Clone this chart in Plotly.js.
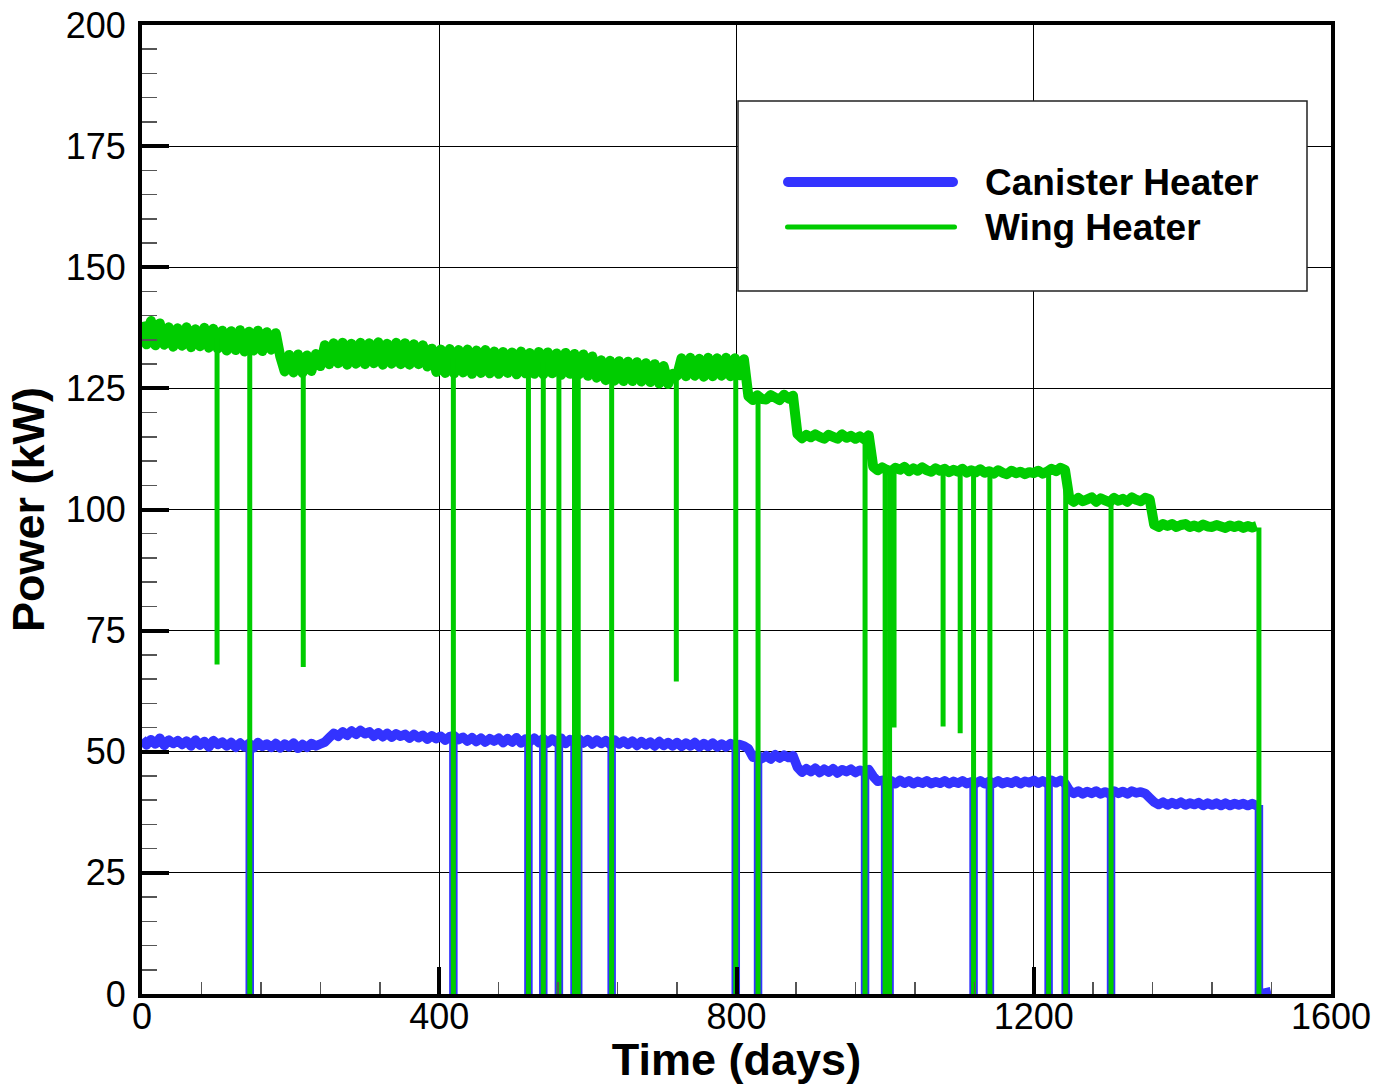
<!DOCTYPE html>
<html>
<head>
<meta charset="utf-8">
<script src="https://cdn.plot.ly/plotly-3.0.1.min.js"></script>
<style>
html,body{margin:0;padding:0;background:#fff;}
#chart{width:1377px;height:1085px;}
#chart path.js-line{stroke-linejoin:round;}
#chart .shapelayer path{stroke-linecap:round;}
</style>
</head>
<body>
<div id="chart"></div>
<script>
// Regular sampling days (every ~6 days)
const days = [
0,6,12,18,24,30,36,42,48,54,
60,66,72,78,84,90,96,102,108,114,
120,126,132,138,144,150,156,162,168,174,
180,186,192,198,204,210,216,222,228,234,
240,246,252,258,264,270,276,282,288,294,
300,306,312,318,324,330,336,342,348,354,
360,366,372,378,384,390,396,402,408,414,
420,426,432,438,444,450,456,462,468,474,
480,486,492,498,504,510,516,522,528,534,
540,546,552,558,564,570,576,582,588,594,
600,606,612,618,624,630,636,642,648,654,
660,666,672,678,684,690,696,702,708,714,
720,726,732,738,744,750,756,762,768,774,
780,786,792,798,804,810,816,822,828,834,
840,846,852,858,864,870,876,882,888,894,
900,906,912,918,924,930,936,942,948,954,
960,966,972,978,984,990,996,1002,1008,1014,
1020,1026,1032,1038,1044,1050,1056,1062,1068,1074,
1080,1086,1092,1098,1104,1110,1116,1122,1128,1134,
1140,1146,1152,1158,1164,1170,1176,1182,1188,1194,
1200,1206,1212,1218,1224,1230,1236,1242,1248,1254,
1260,1266,1272,1278,1284,1290,1296,1302,1308,1314,
1320,1326,1332,1338,1344,1350,1356,1362,1368,1374,
1380,1386,1392,1398,1404,1410,1416,1422,1428,1434,
1440,1446,1452,1458,1464,1470,1476,1482,1488,1494,
1500];

// Wing heater power (kW)
const wingKW = [
138.7,134.1,138.9,133.9,138.4,134.0,137.6,133.6,137.4,133.8,
137.6,133.5,137.2,133.7,137.5,133.4,137.3,133.2,136.9,132.8,
136.8,132.9,137.0,132.6,136.7,132.8,136.9,132.7,136.6,133.0,
136.4,131.6,128.5,131.9,128.3,132.0,128.2,131.8,128.6,132.1,
129.6,133.9,130.0,134.3,130.2,134.4,129.9,134.2,130.1,134.4,
130.0,134.3,130.2,134.5,129.9,134.2,130.1,134.4,130.0,134.3,
129.9,134.1,130.0,133.9,129.5,133.2,128.4,133.0,128.2,133.1,
128.1,132.9,128.3,133.0,128.0,132.8,128.2,132.9,128.1,132.6,
128.0,132.5,128.2,132.4,127.9,132.6,128.1,132.3,128.0,132.5,
127.9,132.4,128.1,132.2,127.8,132.3,128.0,132.1,127.9,132.0,
127.6,131.6,127.2,130.8,126.7,130.7,126.6,130.6,126.5,130.5,
126.5,130.4,126.4,130.2,126.3,130.0,126.0,129.6,125.9,128.0,
127.6,131.2,127.5,131.3,127.6,131.1,127.4,131.3,127.5,131.2,
127.6,131.3,127.5,131.2,127.7,131.0,123.4,122.6,123.6,122.8,
122.7,123.6,123.1,122.6,123.7,122.9,123.5,115.6,114.7,115.4,
114.9,115.5,115.0,114.6,115.4,115.0,114.6,115.5,114.8,115.2,
114.6,115.1,114.5,115.3,108.8,108.1,108.7,108.2,107.9,108.6,
108.2,108.8,107.9,108.5,108.0,108.7,108.1,107.8,108.5,108.0,
108.4,107.7,108.2,107.8,108.4,107.6,108.1,107.7,108.3,107.6,
107.9,107.4,108.1,107.6,107.3,108.0,107.5,107.8,107.3,107.7,
107.5,108.0,107.4,107.8,108.4,107.9,108.6,108.2,102.2,101.6,
102.4,101.7,102.1,102.5,101.6,102.3,101.9,101.5,102.4,101.8,
102.2,101.6,102.5,102.0,101.7,102.4,102.1,96.9,96.4,97.0,
96.6,97.0,96.4,96.8,97.0,96.4,96.7,96.3,96.9,96.5,
96.4,96.8,96.5,96.2,96.7,96.4,96.7,96.2,96.6,96.3,
96.6];

// Canister heater power (kW)
const canisterKW = [
52.6,51.4,52.5,51.6,52.8,51.3,52.4,51.7,52.3,51.5,
52.2,51.2,52.4,51.4,52.1,51.0,52.3,51.5,52.0,51.2,
51.9,50.9,51.8,51.0,51.7,50.8,51.9,51.1,51.6,50.9,
51.7,50.8,51.6,51.0,51.8,50.7,51.5,50.9,51.7,51.2,
51.6,52.0,52.9,53.8,53.2,54.1,53.4,54.3,53.6,54.4,
53.7,54.1,53.2,53.9,53.1,53.8,53.0,53.7,53.2,53.6,
52.8,53.6,52.9,53.4,52.6,53.3,52.7,53.2,52.4,53.1,
53.3,52.5,53.0,52.2,52.9,52.1,52.8,52.0,52.7,52.2,
52.8,51.9,52.7,52.0,52.9,51.8,52.6,52.1,52.8,51.9,
52.7,51.8,52.6,51.9,52.8,51.7,52.5,51.9,52.6,51.8,
52.5,51.6,52.4,51.7,52.3,51.5,52.4,51.6,52.2,51.5,
52.2,51.3,52.1,51.4,52.0,51.2,52.1,51.3,51.9,51.2,
51.9,51.1,51.8,51.2,51.9,51.0,51.7,51.1,51.8,51.0,
51.6,51.0,51.7,51.1,51.5,51.2,50.6,48.9,49.3,48.6,
49.2,48.5,49.4,48.7,49.3,48.8,49.2,46.8,45.8,46.5,
45.9,46.6,45.7,46.4,45.8,46.5,45.6,46.3,45.9,46.4,
45.7,46.2,45.8,46.3,44.9,43.9,44.1,43.5,44.0,43.4,
44.1,43.5,44.0,43.4,43.9,43.5,44.0,43.4,43.8,43.5,
44.0,43.4,43.9,43.5,44.0,43.4,43.8,43.5,44.0,43.4,
43.9,43.5,44.0,43.4,43.8,43.5,44.0,43.4,43.9,43.6,
44.1,43.5,44.0,43.5,44.1,43.6,44.1,43.5,42.0,41.4,
41.9,41.3,41.8,41.4,41.9,41.3,41.7,41.3,41.9,41.4,
41.8,41.3,41.9,41.5,41.7,41.4,40.5,39.6,39.1,39.6,
39.0,39.5,39.1,39.6,39.0,39.4,39.1,39.5,38.9,39.4,
39.0,39.4,38.9,39.4,38.9,39.3,39.0,39.3,38.9,39.3,
38.9];

// Outages / dips: day, level just before, lowest value (null = no dip for that heater)
const dipDay    = [101, 145, 217, 419, 520, 540, 561, 582, 587, 632, 719, 799, 829, 973, 1000, 1006, 1012, 1078, 1101, 1119, 1141, 1220, 1243, 1304, 1503];
const wingAtDip = [135.5,135.0,129.6,131.4,130.6,130.5,130.2,130.0,129.8,129.0,127.0,130.0,123.0,114.8,108.8,108.7,108.6,108.0,107.8,107.6,107.4,107.8,108.4,102.0,96.3];
const wingLow   = [68, 0, 67.5, 0, 0, 0, 0, 0, 0, 0, 64.5, 0, 0, 0, 0, 0, 55, 55.2, 53.8, 0, 0, 0, 0, 0, 0];
const canAtDip  = [null,51.4,null,53.0,52.3,52.2,52.2,52.1,52.1,52.0,null,51.3,48.9,46.0,43.8,43.7,null,null,null,43.6,43.6,43.8,43.6,41.6,39.0];
const canLow    = [null,0,null,0,0,0,0,0,0,0,null,0,0,0,0,0,null,null,null,0,0,0,0,0,0];
// After shutdown the canister record stays at ~0 for a few days
const tailDay = 1519, tailCanKW = 0.6;

const legendNames = ['Canister Heater', 'Wing Heater'];

// Vertical outage segments, separated by gaps
function dipSegments(atDip, low) {
  const xs = [], ys = [];
  for (let j = 0; j < dipDay.length; j++) {
    if (low[j] === null) continue;
    xs.push(dipDay[j], dipDay[j], null);
    ys.push(atDip[j], low[j], null);
  }
  return {xs, ys};
}
const canDips = dipSegments(canAtDip, canLow);
// the canister record continues near zero after the final shutdown
canDips.xs.splice(canDips.xs.length - 1, 1, tailDay);
canDips.ys.splice(canDips.ys.length - 1, 1, tailCanKW);
const wingDips = dipSegments(wingAtDip, wingLow);

const FONT = 'Liberation Sans, Arial, Helvetica, sans-serif';
const BLUE = '#3333ff', GREEN = '#00cc00';

const traces = [
  {x: days, y: canisterKW, type: 'scatter', mode: 'lines', name: legendNames[0], showlegend: false,
   line: {color: BLUE, width: 9.5, simplify: false}},
  {x: canDips.xs, y: canDips.ys, type: 'scatter', mode: 'lines', name: legendNames[0], showlegend: false,
   line: {color: BLUE, width: 8.5, simplify: false}, connectgaps: false},
  {x: days, y: wingKW, type: 'scatter', mode: 'lines', name: legendNames[1], showlegend: false,
   line: {color: GREEN, width: 10, simplify: false}},
  {x: wingDips.xs, y: wingDips.ys, type: 'scatter', mode: 'lines', name: legendNames[1], showlegend: false,
   line: {color: GREEN, width: 5, simplify: false}, connectgaps: false}
];

const axisCommon = {
  showline: true, linecolor: '#000', linewidth: 4, mirror: true,
  showgrid: true, gridcolor: '#000', gridwidth: 1,
  zeroline: false,
  ticks: 'inside', ticklen: 27, tickwidth: 4, tickcolor: '#000',
  tickfont: {family: FONT, size: 36, color: '#000'},
};

// legend geometry (paper fractions of the plot area)
const px = v => (v - 142) / 1189;
const py = v => (994 - v) / 969;

const layout = {
  width: 1377, height: 1085,
  margin: {l: 142, r: 46, t: 25, b: 91},
  paper_bgcolor: '#fff', plot_bgcolor: '#fff',
  showlegend: false,
  xaxis: Object.assign({}, axisCommon, {
    range: [0, 1600], dtick: 400, tick0: 0, ticklabelstandoff: -12,
    minor: {dtick: 80, ticks: 'inside', ticklen: 12, tickwidth: 1.5, tickcolor: '#555', showgrid: false},
    title: {text: 'Time (days)', font: {family: FONT, size: 45, color: '#000', weight: 'bold'}, standoff: 14}
  }),
  yaxis: Object.assign({}, axisCommon, {
    range: [0, 200], dtick: 25, tick0: 0, ticklabelstandoff: 5,
    minor: {dtick: 5, ticks: 'inside', ticklen: 15, tickwidth: 1.5, tickcolor: '#555', showgrid: false},
    title: {text: 'Power (kW)', font: {family: FONT, size: 45, color: '#000', weight: 'bold'}, standoff: 8}
  }),
  shapes: [
    {type: 'rect', xref: 'paper', yref: 'paper',
     x0: px(738), x1: px(1307), y0: py(291), y1: py(101),
     line: {color: '#222', width: 1.5}, fillcolor: '#fff', layer: 'above'},
    {type: 'line', xref: 'paper', yref: 'paper', x0: px(788), x1: px(953), y0: py(182), y1: py(182),
     line: {color: BLUE, width: 10}, layer: 'above'},
    {type: 'line', xref: 'paper', yref: 'paper', x0: px(787.5), x1: px(954.5), y0: py(227), y1: py(227),
     line: {color: GREEN, width: 5}, layer: 'above'}
  ],
  annotations: [
    {xref: 'paper', yref: 'paper', x: px(983), y: py(182), xanchor: 'left', yanchor: 'middle',
     text: legendNames[0], showarrow: false, font: {family: FONT, size: 37, color: '#000', weight: 'bold'}},
    {xref: 'paper', yref: 'paper', x: px(983), y: py(227), xanchor: 'left', yanchor: 'middle',
     text: legendNames[1], showarrow: false, font: {family: FONT, size: 37, color: '#000', weight: 'bold'}}
  ]
};

Plotly.newPlot('chart', traces, layout, {displayModeBar: false, staticPlot: true});
</script>
</body>
</html>
